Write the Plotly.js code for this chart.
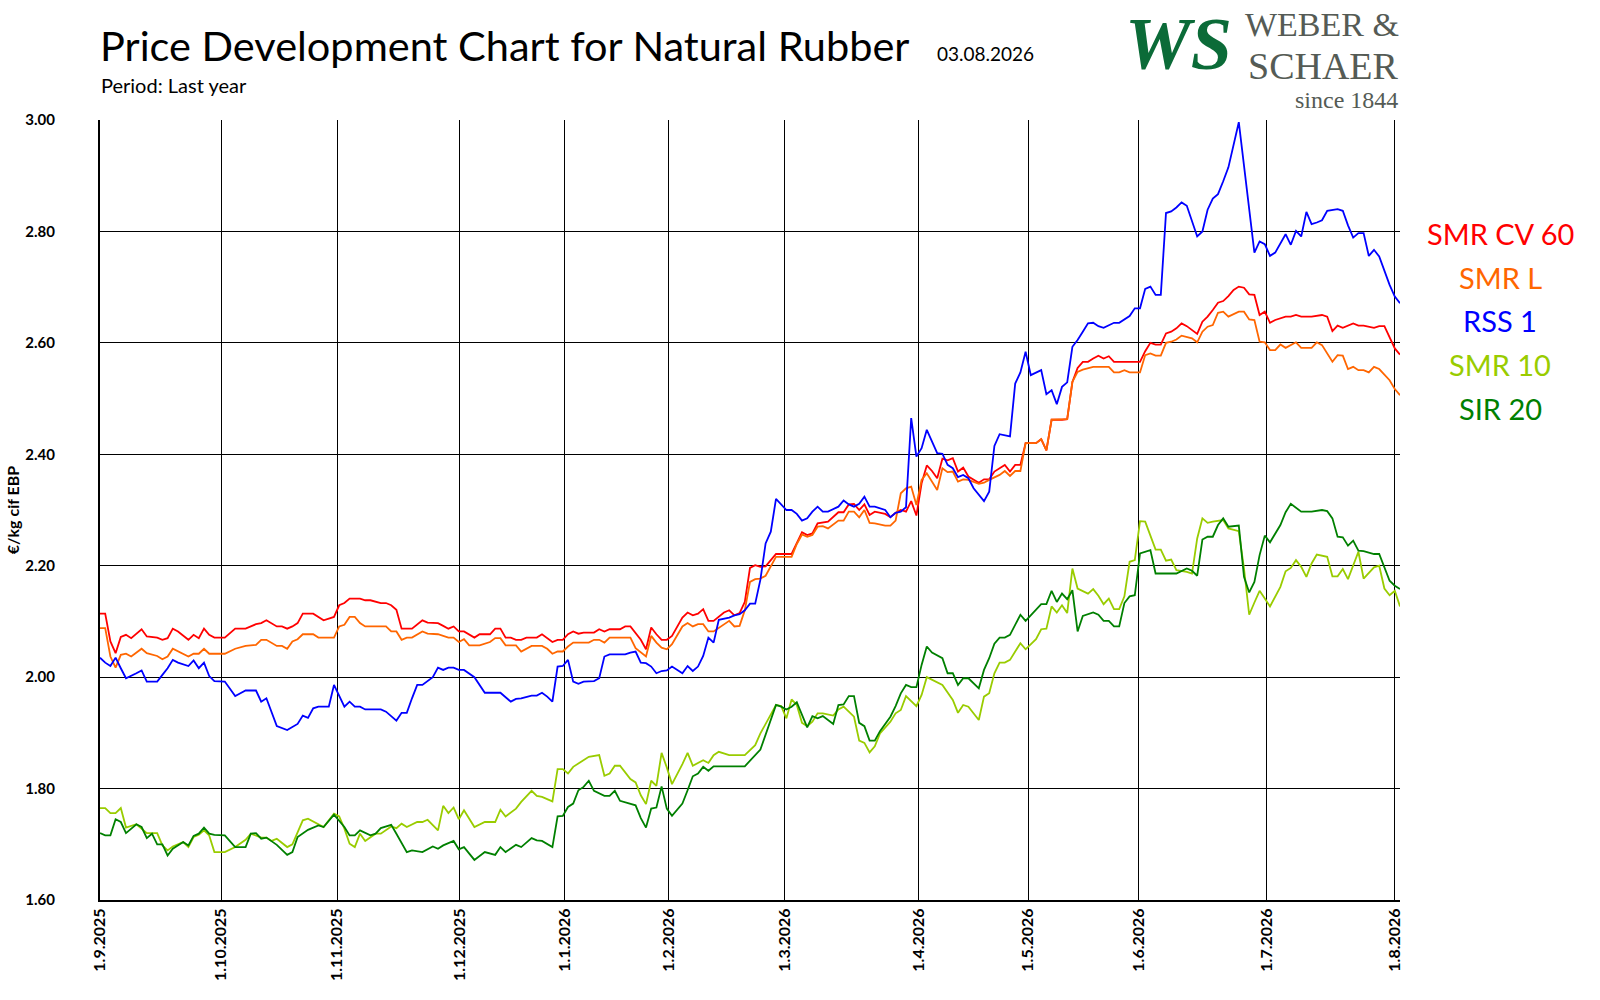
<!DOCTYPE html>
<html>
<head>
<meta charset="utf-8">
<script src="https://cdn.plot.ly/plotly-3.0.1.min.js"></script>
<style>html,body{margin:0;padding:0;background:#fff}#chart{width:1600px;height:1000px}</style>
</head>
<body>
<div id="chart"></div>
<script>
// x = trading-day index (0 = 1.9.2025); values in EUR/kg
const monthStartIdx = [0, 23.3, 45.6, 69.1, 89.3, 109.3, 131.6, 157.4, 178.5, 199.7, 224.3, 249.0];
const monthLabels = ['1.9.2025','1.10.2025','1.11.2025','1.12.2025','1.1.2026','1.2.2026','1.3.2026','1.4.2026','1.5.2026','1.6.2026','1.7.2026','1.8.2026'];
const yTicks = [1.6, 1.8, 2.0, 2.2, 2.4, 2.6, 2.8, 3.0];

const smrCv60 = [[0,2.114],[1,2.114],[2,2.064],[3,2.043],[4,2.072],[5,2.076],[6,2.070],[8,2.086],[9,2.073],[11,2.071],[12,2.067],[13,2.070],[14,2.087],[15,2.082],[17,2.067],[18,2.076],[19,2.070],[20,2.087],[21,2.076],[22,2.071],[24,2.071],[26,2.087],[28,2.087],[29,2.091],[30,2.095],[31,2.097],[32,2.102],[34,2.091],[35,2.091],[36,2.087],[37,2.091],[38,2.097],[39,2.114],[41,2.114],[42,2.108],[43,2.102],[45,2.108],[46,2.129],[47,2.133],[48,2.141],[50,2.141],[51,2.138],[52,2.138],[54,2.133],[55,2.133],[56,2.129],[57,2.121],[58,2.087],[60,2.087],[62,2.102],[63,2.098],[65,2.097],[66,2.092],[67,2.087],[68,2.091],[69,2.082],[70,2.082],[71,2.077],[72,2.071],[73,2.077],[75,2.077],[76,2.087],[77,2.087],[78,2.071],[79,2.071],[80,2.067],[81,2.067],[82,2.071],[84,2.071],[85,2.077],[86,2.070],[87,2.063],[88,2.067],[89,2.067],[90,2.077],[91,2.082],[92,2.078],[93,2.080],[95,2.080],[96,2.086],[97,2.082],[98,2.086],[100,2.086],[101,2.091],[102,2.091],[104,2.067],[105,2.050],[106,2.089],[107,2.077],[108,2.067],[109,2.067],[110,2.074],[112,2.107],[113,2.116],[114,2.111],[115,2.114],[116,2.122],[117,2.101],[118,2.101],[120,2.116],[121,2.120],[122,2.111],[123,2.115],[124,2.135],[125,2.196],[126,2.201],[127,2.198],[128,2.199],[129,2.210],[130,2.221],[133,2.221],[134,2.241],[135,2.260],[136,2.255],[137,2.258],[138,2.276],[139,2.277],[140,2.279],[142,2.296],[143,2.296],[144,2.310],[145,2.311],[146,2.300],[147,2.310],[148,2.291],[149,2.297],[151,2.293],[152,2.287],[153,2.295],[154,2.300],[155,2.297],[156,2.316],[157,2.290],[158,2.348],[159,2.380],[160,2.370],[161,2.357],[162,2.392],[163,2.389],[164,2.393],[165,2.369],[166,2.376],[167,2.360],[169,2.349],[170,2.355],[171,2.355],[172,2.369],[174,2.381],[175,2.369],[176,2.381],[177,2.381],[178,2.420],[180,2.420],[181,2.427],[182,2.407],[183,2.462],[185,2.462],[186,2.463],[187,2.530],[188,2.555],[189,2.566],[190,2.566],[191,2.572],[192,2.577],[193,2.572],[194,2.576],[195,2.566],[200,2.566],[201,2.585],[202,2.600],[203,2.597],[204,2.597],[205,2.617],[206,2.620],[207,2.626],[208,2.635],[209,2.630],[211,2.616],[212,2.638],[213,2.647],[214,2.659],[215,2.672],[216,2.675],[217,2.684],[218,2.695],[219,2.701],[220,2.699],[221,2.687],[222,2.686],[223,2.650],[224,2.656],[225,2.636],[226,2.641],[228,2.647],[229,2.647],[230,2.650],[231,2.647],[233,2.647],[235,2.650],[236,2.647],[237,2.621],[238,2.631],[239,2.627],[240,2.631],[241,2.635],[242,2.631],[243,2.631],[245,2.627],[246,2.630],[247,2.630],[248,2.609],[249,2.590],[250,2.579]];

const smrL = [[0,2.088],[1,2.088],[2,2.037],[3,2.017],[4,2.040],[5,2.042],[6,2.037],[8,2.051],[9,2.043],[11,2.038],[12,2.032],[13,2.037],[14,2.051],[15,2.046],[17,2.037],[18,2.042],[19,2.042],[20,2.051],[21,2.042],[24,2.042],[26,2.051],[28,2.056],[30,2.058],[31,2.067],[32,2.067],[34,2.056],[35,2.056],[36,2.051],[37,2.064],[38,2.068],[39,2.077],[41,2.077],[42,2.071],[45,2.071],[46,2.091],[47,2.094],[48,2.108],[49,2.108],[50,2.097],[51,2.091],[55,2.091],[56,2.082],[57,2.082],[58,2.067],[59,2.071],[60,2.071],[62,2.082],[63,2.078],[65,2.077],[67,2.071],[68,2.071],[69,2.063],[70,2.068],[71,2.057],[73,2.057],[75,2.063],[76,2.070],[77,2.070],[78,2.057],[80,2.057],[81,2.046],[83,2.056],[85,2.056],[86,2.051],[87,2.042],[88,2.046],[89,2.046],[90,2.055],[91,2.062],[92,2.062],[93,2.062],[94,2.062],[95,2.067],[96,2.067],[97,2.062],[98,2.071],[102,2.071],[103,2.052],[105,2.037],[106,2.074],[107,2.062],[108,2.053],[109,2.050],[110,2.059],[112,2.091],[113,2.097],[114,2.091],[115,2.095],[116,2.095],[117,2.082],[118,2.082],[120,2.095],[121,2.101],[122,2.091],[123,2.092],[124,2.120],[125,2.171],[126,2.176],[127,2.177],[128,2.182],[129,2.198],[130,2.216],[133,2.216],[134,2.239],[135,2.256],[136,2.252],[137,2.255],[138,2.270],[139,2.271],[140,2.267],[142,2.281],[143,2.281],[144,2.297],[145,2.297],[146,2.287],[147,2.300],[148,2.277],[149,2.276],[151,2.272],[152,2.272],[153,2.281],[154,2.330],[155,2.339],[156,2.342],[157,2.309],[158,2.354],[159,2.366],[161,2.336],[162,2.375],[163,2.368],[164,2.369],[165,2.351],[166,2.355],[167,2.354],[169,2.347],[170,2.349],[171,2.354],[173,2.363],[174,2.370],[175,2.361],[176,2.370],[177,2.370],[178,2.420],[180,2.420],[181,2.427],[182,2.407],[183,2.462],[186,2.463],[187,2.530],[188,2.548],[189,2.552],[191,2.557],[194,2.557],[195,2.547],[196,2.547],[197,2.551],[198,2.547],[200,2.547],[201,2.578],[202,2.581],[203,2.577],[204,2.577],[205,2.600],[206,2.602],[207,2.606],[208,2.613],[210,2.608],[211,2.601],[212,2.620],[213,2.629],[214,2.632],[215,2.654],[216,2.656],[217,2.647],[219,2.656],[220,2.656],[221,2.642],[222,2.641],[223,2.602],[224,2.601],[225,2.587],[226,2.587],[227,2.597],[228,2.591],[230,2.601],[231,2.591],[233,2.591],[234,2.601],[235,2.596],[237,2.566],[238,2.578],[239,2.577],[240,2.553],[241,2.557],[242,2.551],[243,2.551],[244,2.547],[245,2.557],[246,2.553],[248,2.533],[249,2.517],[250,2.506]];

const rss1 = [[0,2.035],[1,2.026],[2,2.020],[3,2.035],[4,2.016],[5,1.998],[7,2.007],[8,2.012],[9,1.992],[11,1.992],[12,2.004],[13,2.016],[14,2.031],[15,2.026],[17,2.020],[18,2.030],[19,2.016],[20,2.026],[21,2.002],[22,1.993],[24,1.992],[26,1.966],[27,1.971],[28,1.976],[30,1.976],[31,1.956],[32,1.962],[33,1.935],[34,1.912],[36,1.905],[37,1.911],[38,1.916],[39,1.931],[40,1.927],[41,1.944],[42,1.947],[44,1.947],[45,1.986],[47,1.947],[48,1.956],[49,1.947],[50,1.947],[51,1.942],[54,1.942],[55,1.938],[57,1.922],[58,1.936],[59,1.936],[60,1.962],[61,1.986],[62,1.986],[64,2.000],[65,2.017],[66,2.013],[67,2.017],[68,2.017],[69,2.013],[70,2.013],[72,2.000],[74,1.972],[77,1.972],[79,1.956],[80,1.961],[81,1.962],[83,1.967],[84,1.967],[85,1.972],[86,1.965],[87,1.956],[88,2.019],[89,2.020],[90,2.031],[91,1.992],[92,1.988],[93,1.992],[95,1.993],[96,1.998],[97,2.037],[98,2.041],[101,2.041],[102,2.044],[103,2.046],[104,2.026],[105,2.025],[106,2.019],[107,2.007],[108,2.011],[109,2.012],[110,2.019],[112,2.007],[113,2.020],[114,2.011],[115,2.019],[116,2.038],[117,2.071],[118,2.062],[119,2.103],[121,2.107],[122,2.111],[123,2.113],[124,2.120],[125,2.132],[126,2.132],[127,2.175],[128,2.240],[129,2.261],[130,2.320],[132,2.300],[133,2.300],[134,2.293],[135,2.281],[136,2.285],[137,2.297],[138,2.306],[139,2.297],[140,2.297],[142,2.306],[143,2.317],[144,2.310],[145,2.306],[146,2.311],[147,2.324],[148,2.306],[149,2.306],[151,2.300],[152,2.287],[153,2.295],[154,2.297],[155,2.305],[156,2.465],[157,2.396],[158,2.411],[159,2.444],[161,2.402],[162,2.401],[163,2.381],[164,2.375],[165,2.359],[166,2.363],[167,2.357],[168,2.339],[170,2.316],[171,2.333],[172,2.415],[173,2.436],[175,2.432],[176,2.527],[177,2.547],[178,2.584],[179,2.542],[181,2.551],[182,2.508],[183,2.515],[184,2.490],[185,2.521],[186,2.529],[187,2.593],[188,2.605],[189,2.620],[190,2.635],[191,2.636],[192,2.630],[193,2.627],[194,2.632],[195,2.636],[196,2.636],[198,2.648],[199,2.662],[200,2.662],[201,2.697],[202,2.701],[203,2.686],[204,2.686],[205,2.833],[206,2.836],[207,2.843],[208,2.852],[209,2.846],[211,2.791],[212,2.800],[213,2.839],[214,2.859],[215,2.867],[216,2.890],[217,2.915],[219,2.996],[220,2.920],[221,2.841],[222,2.762],[223,2.782],[224,2.777],[225,2.756],[226,2.762],[228,2.795],[229,2.776],[230,2.801],[231,2.791],[232,2.835],[233,2.813],[234,2.816],[235,2.820],[236,2.837],[238,2.840],[239,2.837],[240,2.811],[241,2.789],[242,2.797],[243,2.797],[244,2.756],[245,2.767],[246,2.755],[248,2.704],[249,2.683],[250,2.671]];

const smr10 = [[0,1.765],[1,1.765],[2,1.756],[3,1.756],[4,1.765],[5,1.730],[7,1.736],[9,1.720],[11,1.720],[12,1.698],[13,1.689],[14,1.696],[16,1.704],[17,1.695],[18,1.713],[19,1.717],[20,1.725],[21,1.716],[22,1.686],[24,1.686],[26,1.695],[28,1.708],[29,1.719],[30,1.716],[31,1.712],[32,1.712],[33,1.706],[34,1.710],[36,1.695],[37,1.700],[38,1.722],[39,1.743],[40,1.746],[42,1.736],[43,1.731],[45,1.755],[46,1.750],[47,1.728],[48,1.701],[49,1.695],[50,1.719],[51,1.706],[53,1.719],[54,1.719],[56,1.732],[57,1.729],[58,1.737],[59,1.731],[61,1.740],[62,1.740],[63,1.744],[65,1.725],[66,1.769],[67,1.756],[68,1.766],[69,1.745],[70,1.761],[72,1.731],[74,1.740],[76,1.740],[77,1.762],[78,1.750],[80,1.764],[81,1.776],[83,1.796],[84,1.787],[85,1.785],[87,1.777],[88,1.835],[89,1.835],[90,1.827],[91,1.839],[92,1.845],[93,1.852],[94,1.857],[96,1.860],[97,1.823],[98,1.827],[99,1.841],[100,1.841],[102,1.817],[103,1.811],[104,1.788],[105,1.772],[106,1.814],[107,1.805],[108,1.864],[109,1.838],[110,1.808],[112,1.844],[113,1.864],[114,1.841],[115,1.846],[116,1.851],[117,1.846],[118,1.860],[119,1.866],[121,1.860],[124,1.860],[126,1.878],[127,1.899],[130,1.950],[131,1.948],[132,1.926],[133,1.960],[134,1.950],[135,1.918],[136,1.912],[137,1.920],[138,1.935],[139,1.935],[141,1.931],[142,1.942],[143,1.947],[145,1.929],[146,1.886],[147,1.882],[148,1.865],[149,1.876],[150,1.899],[152,1.920],[153,1.935],[154,1.941],[155,1.966],[157,1.948],[158,1.968],[159,2.000],[162,1.986],[164,1.959],[165,1.936],[166,1.950],[167,1.947],[169,1.923],[170,1.965],[171,1.971],[172,2.007],[173,2.026],[174,2.026],[175,2.031],[177,2.061],[178,2.050],[180,2.068],[181,2.086],[182,2.087],[183,2.127],[184,2.116],[185,2.129],[186,2.115],[187,2.195],[188,2.159],[190,2.150],[191,2.158],[192,2.146],[193,2.131],[194,2.141],[195,2.122],[196,2.122],[197,2.145],[198,2.207],[199,2.210],[200,2.280],[201,2.279],[203,2.229],[204,2.229],[205,2.209],[206,2.211],[207,2.192],[209,2.189],[210,2.186],[211,2.249],[212,2.285],[213,2.277],[214,2.279],[216,2.282],[217,2.267],[219,2.262],[220,2.195],[221,2.112],[222,2.134],[223,2.155],[224,2.141],[225,2.127],[227,2.162],[228,2.190],[229,2.196],[230,2.210],[231,2.198],[232,2.180],[233,2.204],[234,2.220],[236,2.216],[237,2.181],[238,2.181],[239,2.194],[240,2.176],[241,2.200],[242,2.225],[243,2.177],[245,2.197],[246,2.200],[247,2.159],[248,2.147],[249,2.155],[250,2.127]];

const sir20 = [[0,1.720],[1,1.716],[2,1.716],[3,1.745],[4,1.740],[5,1.720],[7,1.736],[8,1.731],[9,1.711],[10,1.719],[11,1.700],[12,1.700],[13,1.680],[14,1.692],[16,1.704],[17,1.698],[18,1.715],[19,1.719],[20,1.730],[21,1.719],[22,1.717],[24,1.716],[26,1.695],[28,1.695],[29,1.719],[30,1.720],[31,1.710],[32,1.712],[34,1.699],[36,1.681],[37,1.686],[38,1.713],[40,1.726],[42,1.734],[43,1.731],[45,1.753],[47,1.731],[48,1.716],[49,1.716],[50,1.725],[52,1.716],[53,1.719],[54,1.729],[56,1.735],[57,1.719],[59,1.686],[60,1.689],[62,1.686],[64,1.696],[65,1.692],[66,1.698],[68,1.706],[69,1.691],[70,1.695],[72,1.672],[74,1.686],[76,1.681],[77,1.695],[78,1.686],[80,1.699],[81,1.695],[83,1.711],[84,1.707],[85,1.706],[87,1.695],[88,1.750],[89,1.751],[90,1.767],[91,1.773],[92,1.797],[93,1.803],[94,1.814],[95,1.796],[97,1.787],[98,1.787],[99,1.796],[100,1.778],[102,1.772],[103,1.770],[104,1.747],[105,1.730],[106,1.764],[107,1.766],[108,1.804],[109,1.764],[110,1.751],[112,1.773],[113,1.797],[114,1.822],[115,1.827],[116,1.839],[117,1.832],[118,1.840],[124,1.840],[127,1.870],[130,1.950],[131,1.947],[132,1.942],[133,1.947],[134,1.955],[135,1.932],[136,1.910],[137,1.930],[138,1.926],[139,1.930],[141,1.916],[142,1.950],[143,1.951],[144,1.966],[145,1.966],[146,1.918],[147,1.912],[148,1.886],[149,1.886],[150,1.903],[152,1.929],[153,1.948],[154,1.971],[155,1.986],[156,1.982],[157,1.982],[158,2.022],[159,2.055],[160,2.044],[162,2.034],[163,2.007],[164,2.007],[165,1.986],[166,1.998],[167,1.998],[169,1.980],[170,2.013],[171,2.034],[172,2.060],[173,2.071],[174,2.071],[175,2.076],[176,2.094],[177,2.112],[178,2.101],[180,2.121],[181,2.131],[182,2.131],[183,2.155],[184,2.135],[185,2.150],[186,2.140],[187,2.156],[188,2.082],[189,2.110],[191,2.116],[192,2.112],[193,2.101],[194,2.101],[195,2.091],[196,2.091],[197,2.133],[198,2.145],[199,2.147],[200,2.222],[202,2.228],[203,2.186],[207,2.186],[209,2.195],[210,2.191],[211,2.182],[212,2.247],[213,2.252],[214,2.252],[215,2.273],[216,2.285],[217,2.270],[219,2.272],[220,2.180],[221,2.152],[222,2.171],[223,2.219],[224,2.254],[225,2.242],[227,2.273],[228,2.296],[229,2.311],[231,2.297],[233,2.297],[235,2.300],[236,2.298],[237,2.285],[238,2.252],[239,2.251],[240,2.236],[241,2.245],[242,2.227],[243,2.226],[245,2.221],[246,2.221],[247,2.196],[248,2.173],[249,2.164],[250,2.158]];

const seriesNames = ['SMR CV 60', 'SMR L', 'RSS 1', 'SMR 10', 'SIR 20'];
const seriesData = [smrCv60, smrL, rss1, smr10, sir20];
const seriesColors = ['#ff0000', '#ff6600', '#0000ff', '#99cc00', '#008000'];

const FONT = 'Lato, "Open Sans", sans-serif';
const SERIF = '"Liberation Serif", serif';
const traces = seriesData.map((s, k) => ({
  type: 'scatter', mode: 'lines', name: seriesNames[k],
  x: s.map(p => p[0]), y: s.map(p => p[1]),
  line: {color: seriesColors[k], width: 1.8},
  hoverinfo: 'x+y+name'
}));

// helpers converting page pixels to paper coords (plot area 100..1400 x 120..900)
const px = x => (x - 100) / 1300;
const py = y => (900 - y) / 780;

const annotations = [];
const legendY = [233, 277, 320, 364, 408];
seriesNames.forEach((n, k) => annotations.push({
  xref: 'paper', yref: 'paper', x: px(1500), y: py(legendY[k]), xanchor: 'center', yanchor: 'middle',
  text: n, showarrow: false, font: {family: FONT, size: 29, color: seriesColors[k]}
}));
annotations.push({xref: 'paper', yref: 'paper', x: px(935), y: py(53), xanchor: 'left', yanchor: 'middle',
  text: '03.08.2026', showarrow: false, font: {family: FONT, size: 19, color: '#000'}});
annotations.push({xref: 'paper', yref: 'paper', x: px(99), y: py(85), xanchor: 'left', yanchor: 'middle',
  text: 'Period: Last year', showarrow: false, font: {family: FONT, size: 20, color: '#000'}});
// logo
annotations.push({xref: 'paper', yref: 'paper', x: px(1401), y: py(24), xanchor: 'right', yanchor: 'middle',
  text: 'WEBER &amp;', showarrow: false, font: {family: SERIF, size: 34, color: '#555b55'}});
annotations.push({xref: 'paper', yref: 'paper', x: px(1401), y: py(66), xanchor: 'right', yanchor: 'middle',
  text: 'SCHAER', showarrow: false, font: {family: SERIF, size: 38, color: '#555b55'}});
annotations.push({xref: 'paper', yref: 'paper', x: px(1400), y: py(100), xanchor: 'right', yanchor: 'middle',
  text: 'since 1844', showarrow: false, font: {family: SERIF, size: 24, color: '#555b55'}});
annotations.push({xref: 'paper', yref: 'paper', x: px(1178), y: py(44), xanchor: 'center', yanchor: 'middle',
  text: '<b><i>WS</i></b>', showarrow: false, borderpad: 6,
  font: {family: SERIF, size: 74, color: '#0b6b38'}});

const layout = {
  width: 1600, height: 1000,
  margin: {l: 100, r: 200, t: 120, b: 100},
  paper_bgcolor: '#fff', plot_bgcolor: '#fff',
  showlegend: false,
  title: {text: 'Price Development Chart for Natural Rubber', xref: 'container', yref: 'container',
    x: 100 / 1600, xanchor: 'left', y: 1 - 46 / 1000, yanchor: 'middle',
    font: {family: FONT, size: 41.5, color: '#000'}},
  xaxis: {
    range: [0, 250], tickmode: 'array', tickvals: monthStartIdx, ticktext: monthLabels,
    tickangle: -90, showgrid: true, gridcolor: '#000', gridwidth: 1,
    showline: true, linecolor: '#000', linewidth: 2, zeroline: false,
    ticks: '', tickfont: {family: FONT, size: 16, color: '#000', weight: 'bold'},
    fixedrange: true
  },
  yaxis: {
    range: [1.6, 3.0], tickmode: 'array', tickvals: yTicks, tickformat: '.2f',
    showgrid: true, gridcolor: '#000', gridwidth: 1,
    showline: true, linecolor: '#000', linewidth: 2, zeroline: false,
    ticks: 'outside', ticklen: 40, tickcolor: 'rgba(0,0,0,0)',
    tickfont: {family: FONT, size: 15, color: '#000', weight: 'bold'},
    title: {text: '€/kg cif EBP', standoff: 2, font: {family: FONT, size: 16, color: '#000', weight: 'bold'}},
    fixedrange: true
  },
  annotations: annotations
};

Plotly.newPlot('chart', traces, layout, {displayModeBar: false});
</script>
</body>
</html>
